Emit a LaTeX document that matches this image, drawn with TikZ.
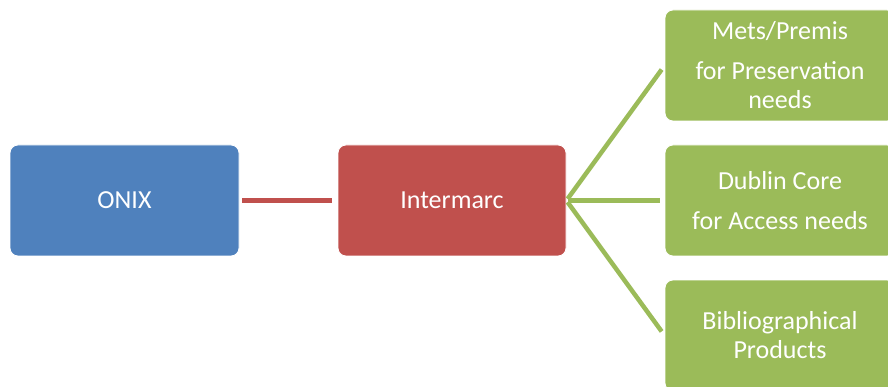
\documentclass[tikz,border=0pt]{standalone}
\usepackage{fontspec}
\setmainfont{Carlito}
\definecolor{oblue}{HTML}{4F81BD}
\definecolor{ored}{HTML}{C0504D}
\definecolor{ogreen}{HTML}{9BBB59}
\tikzset{
  box/.style={rounded corners=8pt, draw=white, line width=0.8pt, minimum height=111pt, inner sep=0pt,
    text=white, align=center, font=\fontsize{26}{29}\selectfont},
  conn/.style={line width=4.5pt},
}
\begin{document}
\begin{tikzpicture}[x=1pt,y=-1pt]
\clip (0,0) rectangle (888,387);
\useasboundingbox (0,0) rectangle (888,387);
\node[box, fill=oblue, minimum width=229pt] (onix) at (124.5,200.5) {ONIX};
\node[box, fill=ored, minimum width=228pt] (inter) at (452,200.5) {Intermarc};
\node[box, fill=ogreen, minimum width=230pt] (g1) at (780,65.5) {Mets/Premis\\[11pt]for Preservation\\needs};
\node[box, fill=ogreen, minimum width=230pt] (g2) at (780,200.5) {Dublin Core\\[11pt]for Access needs};
\node[box, fill=ogreen, minimum width=230pt] (g3) at (780,335.5) {Bibliographical\\Products};
\draw[conn, ored, shorten <=3pt, shorten >=6pt] (onix.east) -- (inter.west);
\draw[conn, ogreen, shorten <=2pt, shorten >=5pt] (inter.east) -- (g1.west);
\draw[conn, ogreen, shorten <=2pt, shorten >=5pt] (inter.east) -- (g2.west);
\draw[conn, ogreen, shorten <=2pt, shorten >=5pt] (inter.east) -- (g3.west);
\end{tikzpicture}
\end{document}
